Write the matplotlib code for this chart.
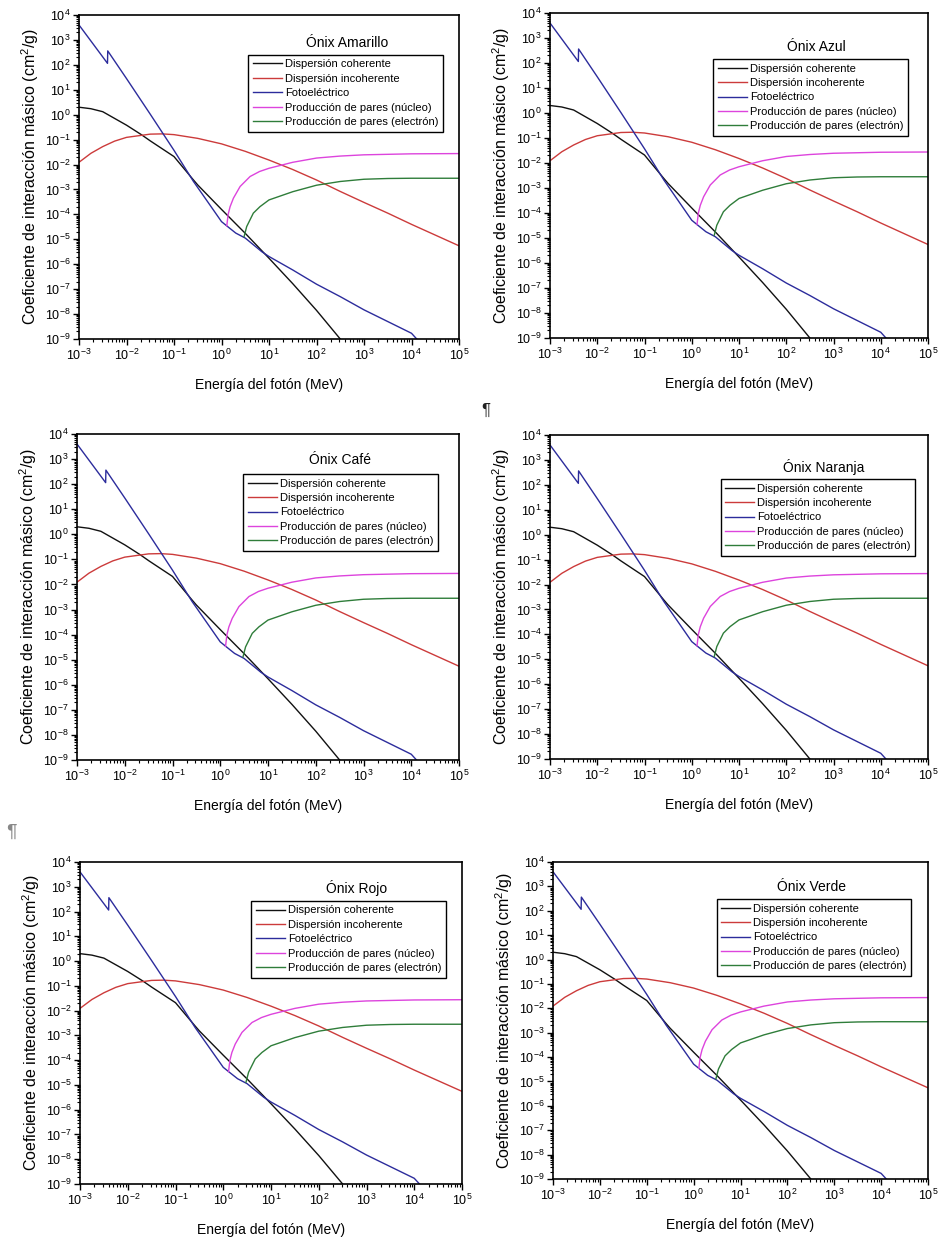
import matplotlib
matplotlib.use("Agg")
import matplotlib.pyplot as plt
from matplotlib.ticker import LogLocator, NullFormatter
import numpy as np

plt.rcParams['font.family'] = ['Liberation Sans', 'DejaVu Sans']
plt.rcParams['mathtext.default'] = 'regular'
plt.rcParams['axes.unicode_minus'] = False

# panel titles (one per mineral sample)
titles = ["Ónix Amarillo", "Ónix Azul", "Ónix Café",
          "Ónix Naranja", "Ónix Rojo", "Ónix Verde"]

labels = ["Dispersión coherente", "Dispersión incoherente", "Fotoeléctrico",
          "Producción de pares (núcleo)", "Producción de pares (electrón)"]
colors = ["#111111", "#cc3b3b", "#2c2c9c", "#dd44dd", "#2f7d3a"]

# curves, as log10(E / MeV) and log10(mu / (cm2/g))
coh_logE = [-3, -2.75, -2.5, -2, -1.68, -1.5, -1, -0.59, -0.5, 0, 0.5, 1, 1.5, 2, 2.5]
coh_logmu = [0.30, 0.24, 0.12, -0.42, -0.81, -1.05, -1.68, -2.62, -2.82, -3.80,
             -4.76, -5.76, -6.78, -7.85, -9.0]

inc_logE = [-3, -2.75, -2.5, -2.25, -2, -1.5, -1.25, -1, -0.5, 0, 0.5, 1, 1.5,
            2, 2.5, 3, 3.5, 4, 4.5, 5]
inc_logmu = [-1.91, -1.55, -1.28, -1.06, -0.91, -0.78, -0.77, -0.80, -0.95, -1.17,
             -1.47, -1.82, -2.20, -2.62, -3.08, -3.52, -3.95, -4.40, -4.83, -5.26]

pho_logE = [-3, -2.40, -2.395, -2, -1.5, -1, -0.59, -0.3, 0, 0.11, 0.3, 0.5,
            0.85, 1, 1.5, 2, 2.5, 3, 3.5, 4, 4.11]
pho_logmu = [3.60, 2.06, 2.56, 1.45, 0.02, -1.43, -2.68, -3.47, -4.29, -4.46,
             -4.75, -4.95, -5.50, -5.69, -6.23, -6.80, -7.30, -7.83, -8.30, -8.77, -9.0]

ppn_logE = [0.111, 0.14, 0.181, 0.251, 0.392, 0.602, 0.8, 1.0, 1.5, 2.0, 2.5,
            3.0, 4.0, 5.0]
ppn_logmu = [-4.46, -4.0, -3.69, -3.35, -2.88, -2.48, -2.28, -2.15, -1.91, -1.74,
             -1.66, -1.61, -1.57, -1.56]

ppe_logE = [0.476, 0.53, 0.67, 0.81, 1.0, 1.5, 2.0, 2.5, 3.0, 3.5, 4.0, 5.0]
ppe_logmu = [-4.89, -4.49, -3.95, -3.69, -3.42, -3.09, -2.83, -2.68, -2.59,
             -2.56, -2.55, -2.55]

curves = [(coh_logE, coh_logmu), (inc_logE, inc_logmu), (pho_logE, pho_logmu),
          (ppn_logE, ppn_logmu), (ppe_logE, ppe_logmu)]

W, H = 938, 1240
# axes boxes in pixels: x0, x1, y0 (top), y1 (bottom)
boxes = [(79, 459, 15, 339), (550, 928, 13, 338),
         (77, 459, 434, 760), (550, 928, 435, 759),
         (80, 462, 862, 1184), (553, 928, 862, 1179)]
# legend upper-right corner and title centre, axes fraction
leg_pos = [(0.958, 0.877), (0.947, 0.858), (0.945, 0.877),
           (0.966, 0.864), (0.958, 0.879), (0.955, 0.883)]
title_pos = [(0.705, 0.914), (0.705, 0.895), (0.688, 0.92),
             (0.725, 0.901), (0.723, 0.919), (0.69, 0.921)]

fig = plt.figure(figsize=(W / 100, H / 100), dpi=100)

for i, (x0, x1, y0, y1) in enumerate(boxes):
    ax = fig.add_axes([x0 / W, 1 - y1 / H, (x1 - x0) / W, (y1 - y0) / H])
    for (le, lm), lab, c in zip(curves, labels, colors):
        ax.plot(10.0 ** np.array(le), 10.0 ** np.array(lm), color=c, lw=1.0, label=lab)
    ax.set_xscale('log')
    ax.set_yscale('log')
    ax.set_xlim(1e-3, 1e5)
    ax.set_ylim(1e-9, 1e4)
    ax.set_xticks(10.0 ** np.arange(-3, 6))
    ax.set_yticks(10.0 ** np.arange(-9, 5))
    ax.xaxis.set_minor_locator(LogLocator(subs=np.arange(2, 10), numticks=100))
    ax.yaxis.set_minor_locator(LogLocator(subs=np.arange(2, 10), numticks=100))
    ax.xaxis.set_minor_formatter(NullFormatter())
    ax.yaxis.set_minor_formatter(NullFormatter())
    ax.tick_params(which='major', direction='out', length=4, width=1.0, labelsize=9, pad=2)
    ax.tick_params(which='minor', direction='out', length=2.5, width=0.8)
    ax.tick_params(top=False, right=False)
    for s in ax.spines.values():
        s.set_linewidth(1.2)
    ax.set_xlabel("Energía del fotón (MeV)", fontsize=10, labelpad=11)
    ax.set_ylabel("Coeficiente de interacción másico (cm$^2$/g)", fontsize=11.5, labelpad=3)
    leg = ax.legend(loc='upper right', bbox_to_anchor=leg_pos[i], borderaxespad=0,
                    fontsize=8, frameon=True, fancybox=False, framealpha=1,
                    edgecolor='black', handlelength=2.6, handletextpad=0.3,
                    labelspacing=0.4, borderpad=0.4)
    leg.get_frame().set_linewidth(1.0)
    ax.text(title_pos[i][0], title_pos[i][1], titles[i], transform=ax.transAxes,
            ha='center', va='center', fontsize=10)

# paragraph marks from the source document
fig.text(486 / W, 1 - 410 / H, "¶", fontsize=12, ha='center', va='center', color='#222222')
fig.text(11 / W, 1 - 832 / H, "¶", fontsize=14, ha='center', va='center', color='#888888')

fig.savefig("out.png", dpi=100)
plt.close(fig)
